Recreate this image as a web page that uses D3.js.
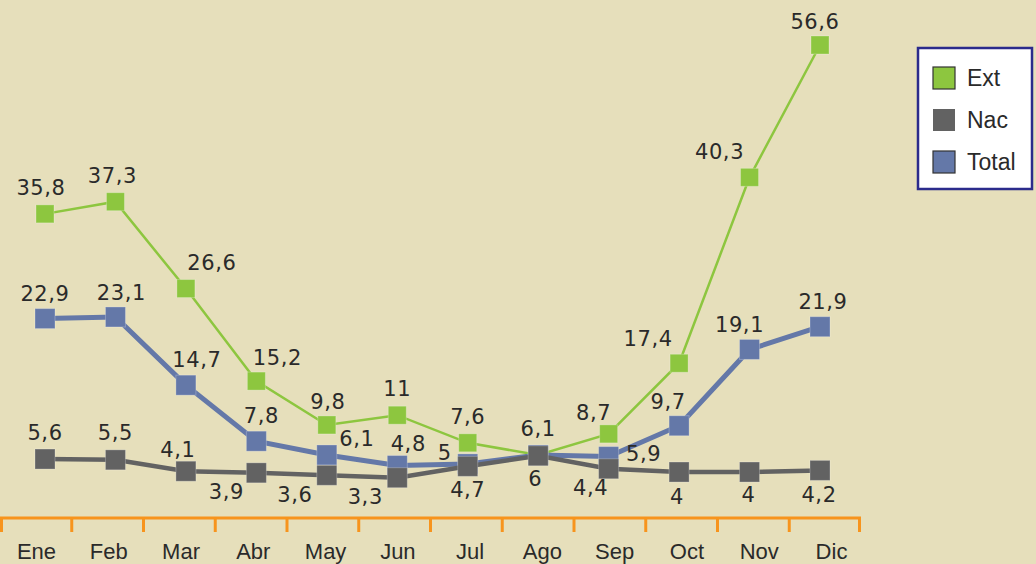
<!DOCTYPE html>
<html>
<head>
<meta charset="utf-8">
<script src="https://cdn.jsdelivr.net/npm/d3@7"></script>
<style>
  body { margin: 0; background: #e6dfbb; }
  svg { display: block; }
</style>
</head>
<body>
<div id="chart"></div>
<script>
// months on the x axis
const months = ["Ene", "Feb", "Mar", "Abr", "May", "Jun", "Jul", "Ago", "Sep", "Oct", "Nov", "Dic"];

// series values
const ext   = [35.8, 37.3, 26.6, 15.2, 9.8, 11, 7.6, 6.1, 8.7, 17.4, 40.3, 56.6];
const nac   = [5.6, 5.5, 4.1, 3.9, 3.6, 3.3, 4.7, 6, 4.4, 4, 4, 4.2];
const total = [22.9, 23.1, 14.7, 7.8, 6.1, 4.8, 5, 6.1, 5.9, 9.7, 19.1, 21.9];

// where each value label sits relative to its marker (dx, dy); null = hidden behind another label
const extLabelOffsets   = [[-4,-26],[-3,-26],[26,-26],[21,-23],[1,-23],[0,-26],[0,-26],[0,-26],[-15,-21],[-31,-24],[-30,-25],[-5,-23]];
const nacLabelOffsets   = [[0,-26],[0,-27],[-8,-21],[-30,19],[-32,20],[-32,19],[0,24],[-3,23],[-18,19],[-2,25],[-1,23],[-1,25]];
const totalLabelOffsets = [[0,-25],[6,-24],[11,-25],[5,-25],[30,-16],[11,-22],[-23,-11],null,[35,-3],[-11,-24],[-10,-24],[3,-25]];

const series = [
    {name: "Ext", values: ext, offsets: extLabelOffsets, color: "#8dc63f", lineWidth: 2.5, size: 18, stroke: "#333"},
    {name: "Nac", values: nac, offsets: nacLabelOffsets, color: "#626262", lineWidth: 4.5, size: 20, stroke: null},
    {name: "Total", values: total, offsets: totalLabelOffsets, color: "#6478a8", lineWidth: 5, size: 20, stroke: "#333"}
];
// drawing order: green first, then blue, then gray on top
const drawOrder = [series[0], series[2], series[1]];

const width = 1036, height = 564;
const svg = d3.select("#chart")
    .append("svg")
    .attr("width", width)
    .attr("height", height);

svg.append("rect")
    .attr("width", width)
    .attr("height", height)
    .attr("fill", "#e6dfbb");

// X scales: band for tick marks, point for markers and month labels
const axisEnd = 861;
const xBand = d3.scaleBand()
    .domain(months)
    .range([0, axisEnd]);
const x = d3.scalePoint()
    .domain(months)
    .range([45, 820]);
const xLabel = d3.scalePoint()
    .domain(months)
    .range([36, 831]);

// Y scale
const y = d3.scaleLinear()
    .domain([0, 56.6])
    .range([504.5, 45]);

const axisY = 518;
const axis = svg.append("g")
    .attr("transform", "translate(0," + axisY + ")")
    .call(d3.axisBottom(xLabel).tickSize(0).tickPadding(0));
axis.select(".domain").remove();
axis.selectAll("text")
    .attr("y", 41)
    .attr("dy", 0)
    .attr("fill", "#2a2a2a")
    .style("font-family", "'Liberation Sans', Arial, sans-serif")
    .style("font-size", "22px");

axis.append("line")
    .attr("x1", 0)
    .attr("x2", axisEnd)
    .attr("stroke", "#f7941d")
    .attr("stroke-width", 3);

const boundaries = months.map(m => xBand(m)).concat([xBand.range()[1]]);
axis.selectAll("line.tick-mark")
    .data(boundaries)
    .enter()
    .append("line")
    .attr("class", "tick-mark")
    .attr("x1", d => Math.max(1.5, Math.min(axisEnd - 1.5, d)))
    .attr("x2", d => Math.max(1.5, Math.min(axisEnd - 1.5, d)))
    .attr("y1", 0)
    .attr("y2", 14)
    .attr("stroke", "#f7941d")
    .attr("stroke-width", 3);

// Lines
const line = d3.line()
    .x((d, i) => x(months[i]))
    .y(d => y(d));

drawOrder.forEach(s => {
    svg.append("path")
        .datum(s.values)
        .attr("fill", "none")
        .attr("stroke", s.color)
        .attr("stroke-width", s.lineWidth)
        .attr("d", line);
    svg.selectAll(null)
        .data(s.values)
        .enter()
        .append("rect")
        .attr("x", (d, i) => x(months[i]) - s.size / 2)
        .attr("y", d => y(d) - s.size / 2)
        .attr("width", s.size)
        .attr("height", s.size)
        .attr("fill", s.color)
        .attr("stroke", "rgba(255,255,255,0.25)")
        .attr("stroke-width", 1);
});

// Value labels
series.forEach(s => {
    const labels = s.values.map((v, i) => ({v: v, i: i})).filter(d => s.offsets[d.i]);
    svg.selectAll(null)
        .data(labels)
        .enter()
        .append("text")
        .attr("x", d => x(months[d.i]) + s.offsets[d.i][0])
        .attr("y", d => y(d.v) + s.offsets[d.i][1])
        .attr("text-anchor", "middle")
        .attr("dominant-baseline", "central")
        .attr("fill", "#2a2a2a")
        .style("font-family", "'DejaVu Sans', Verdana, sans-serif")
        .style("font-size", "21px")
        .style("letter-spacing", "0.6px")
        .text(d => String(d.v).replace(".", ","));
});

// Legend
const legend = svg.append("g");
legend.append("rect")
    .attr("x", 918)
    .attr("y", 48)
    .attr("width", 114)
    .attr("height", 141)
    .attr("fill", "#ffffff")
    .attr("stroke", "#2b2b8c")
    .attr("stroke-width", 2.5);

const legendRows = legend.selectAll("g.row")
    .data(series)
    .enter()
    .append("g")
    .attr("class", "row")
    .attr("transform", (d, i) => "translate(933," + (67 + i * 42) + ")");
legendRows.append("rect")
    .attr("width", 22)
    .attr("height", 22)
    .attr("fill", d => d.color)
    .attr("stroke", d => d.stroke || "none")
    .attr("stroke-width", 1.2);
legendRows.append("text")
    .attr("x", 34)
    .attr("y", 11)
    .attr("dominant-baseline", "central")
    .attr("fill", "#2a2a2a")
    .style("font-family", "'Liberation Sans', Arial, sans-serif")
    .style("font-size", "23px")
    .text(d => d.name);
</script>
</body>
</html>
